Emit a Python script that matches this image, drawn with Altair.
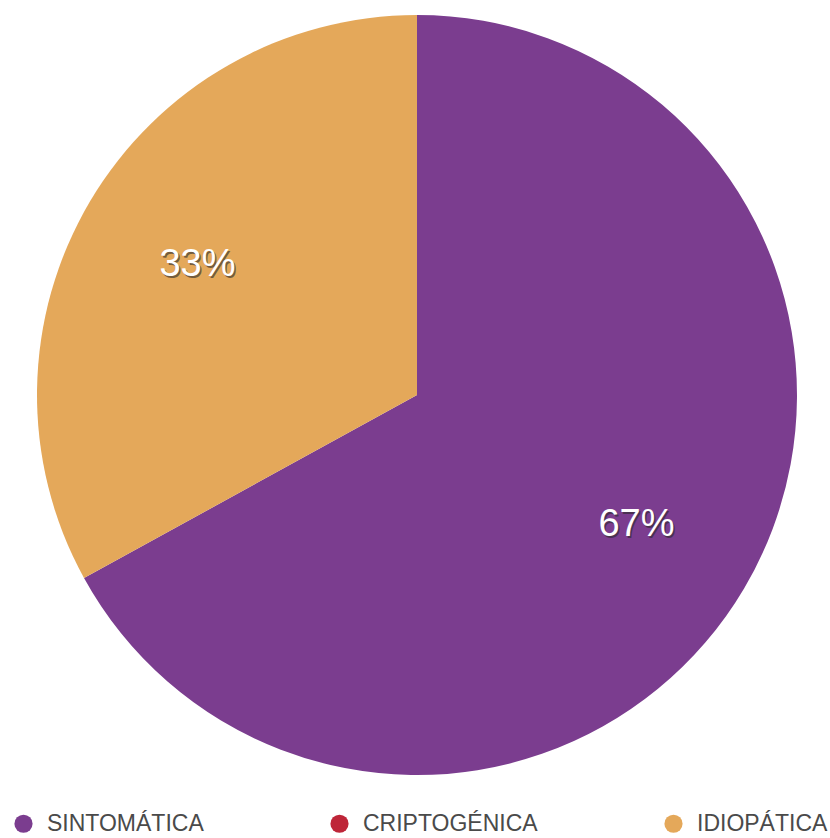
import altair as alt
import pandas as pd

categories = ["SINTOMÁTICA", "CRIPTOGÉNICA", "IDIOPÁTICA"]
values = [67, 0, 33]
labels = ["67%", "", "33%"]
order = [0, 1, 2]
colors = ["#7B3D8F", "#BE2538", "#E4A85A"]

df = pd.DataFrame({"cat": categories, "value": values, "label": labels, "order": order})

cx, cy = 417, 395

arc = alt.Chart(df).mark_arc(outerRadius=380).encode(
    theta=alt.Theta("value:Q", stack=True),
    order=alt.Order("order:Q"),
    color=alt.Color(
        "cat:N",
        sort=categories,
        scale=alt.Scale(domain=categories, range=colors),
        legend=alt.Legend(
            orient="none", legendX=12, legendY=812, direction="horizontal",
            title=None, symbolType="circle", symbolSize=330, symbolStrokeWidth=0,
            symbolOpacity=1, labelFont="Liberation Sans", labelFontSize=23,
            labelColor="#4a4a4a", labelOffset=12, columnPadding=124,
            gridAlign="each", padding=0, labelLimit=0,
        ),
    ),
    x=alt.value(cx), y=alt.value(cy),
)

text_base = alt.Chart(df).encode(
    theta=alt.Theta("value:Q", stack=True),
    order=alt.Order("order:Q"),
    detail="cat:N",
    text="label:N",
    x=alt.value(cx), y=alt.value(cy),
)

shadow = text_base.mark_text(radius=255, fontSize=38, font="Liberation Sans",
                             color="#2a2a2a", opacity=0.6, dx=1.5, dy=2)
text = text_base.mark_text(radius=255, fontSize=38, font="Liberation Sans", color="white")

chart = alt.layer(arc, shadow, text).properties(
    width=830, height=838, autosize=alt.AutoSizeParams(type="none"), padding=0
).configure_view(stroke=None)

chart.save("out.html", embed_options={"renderer": "svg", "actions": False})
